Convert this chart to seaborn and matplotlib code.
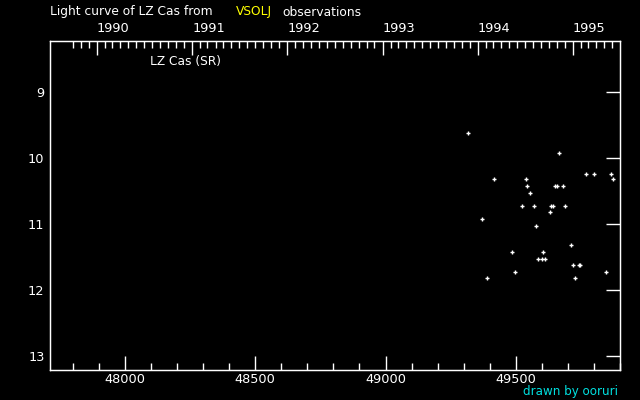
import numpy as np
import pandas as pd
import seaborn as sns
import matplotlib.pyplot as plt
from matplotlib.ticker import MultipleLocator, FixedLocator

# observations (JD - 2400000, visual magnitude)
jd = [49316, 49666, 49769, 49800, 49865, 49873, 49416, 49539, 49543, 49554,
      49650, 49658, 49681, 49524, 49570, 49635, 49643, 49689, 49631, 49370,
      49577, 49712, 49485, 49604, 49585, 49600, 49612, 49719, 49742, 49746,
      49846, 49497, 49389, 49727]
mag = [9.62, 9.92, 10.23, 10.23, 10.23, 10.32, 10.32, 10.32, 10.42, 10.52,
       10.42, 10.42, 10.42, 10.73, 10.73, 10.73, 10.73, 10.73, 10.82, 10.92,
       11.02, 11.32, 11.42, 11.42, 11.52, 11.52, 11.52, 11.62, 11.62, 11.62,
       11.73, 11.73, 11.82, 11.82]
years = [1990, 1991, 1992, 1993, 1994, 1995]

df = pd.DataFrame({"jd": jd, "mag": mag})

sns.set_style("dark", {"axes.facecolor": "black", "figure.facecolor": "black"})
plt.rcParams["font.family"] = ["DejaVu Sans"]

fig = plt.figure(figsize=(6.4, 4), dpi=100)
fig.patch.set_facecolor("black")
ax = fig.add_axes([50/640, 1-370/400, 570/640, 329/400])
ax.set_facecolor("black")

sns.scatterplot(data=df, x="jd", y="mag", marker="+", s=11, color="white",
                linewidth=1, ax=ax)

ax.set_xlim(47712, 49900)
ax.set_ylim(13.21, 8.22)
ax.set_xlabel("")
ax.set_ylabel("")
ax.grid(False)
for s in ax.spines.values():
    s.set_color("white")
    s.set_linewidth(1)

ax.xaxis.set_major_locator(FixedLocator([48000, 48500, 49000, 49500]))
ax.xaxis.set_minor_locator(MultipleLocator(100))
ax.yaxis.set_major_locator(MultipleLocator(1))
ax.tick_params(axis="x", which="major", direction="in", length=10, width=1,
               colors="white", labelsize=9.3, pad=2, top=False)
ax.tick_params(axis="x", which="minor", direction="in", length=5, width=1,
               colors="white", top=False)
ax.tick_params(axis="y", which="major", direction="in", length=10, width=1,
               colors="white", labelsize=9.3, pad=4, right=True)

# top axis: calendar years
def to_jd(d):
    return (pd.Timestamp(d) - pd.Timestamp("1858-11-17")).days + 0.5

top = ax.twiny()
top.set_xlim(ax.get_xlim())
top.xaxis.set_major_locator(FixedLocator([to_jd(f"{y}-01-01") for y in years]))
top.xaxis.set_minor_locator(FixedLocator(
    [to_jd(d) for d in pd.date_range("1989-10-01", "1995-06-01", freq="MS")]))
top.set_xticklabels([str(y) for y in years])
for lbl in top.get_xticklabels():
    lbl.set_horizontalalignment("left")
top.tick_params(axis="x", which="major", direction="in", length=10, width=1,
                colors="white", labelsize=9.3, pad=4)
top.tick_params(axis="x", which="minor", direction="in", length=5, width=1,
                colors="white")
for s in top.spines.values():
    s.set_color("white")

fig.text(150/640, 1-61/400, "LZ Cas (SR)", color="white", fontsize=8.8, va="center")
fig.text(50/640, 1-12/400, "Light curve of LZ Cas from", color="white",
         fontsize=8.8, va="center")
fig.text(236/640, 1-12/400, "VSOLJ", color="yellow", fontsize=8.8, va="center")
fig.text(282/640, 1-12/400, "observations", color="white", fontsize=8.8, va="center")
fig.text(618/640, 1-392/400, "drawn by ooruri", color="#00e0e0", fontsize=8.6,
         va="center", ha="right")

fig.savefig("out.png", dpi=100, facecolor="black")
